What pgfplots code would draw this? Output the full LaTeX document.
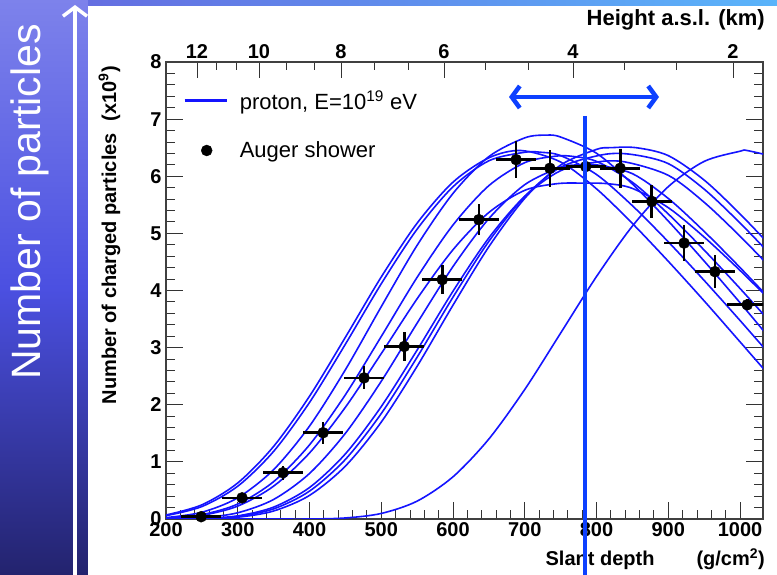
\documentclass[border=0pt]{standalone}
\usepackage{fontspec}
\setmainfont{Liberation Sans}
\usepackage{pgfplots}
\pgfplotsset{compat=1.18}
\usetikzlibrary{arrows.meta}

\definecolor{curve}{rgb}{0.08,0.08,1}
\definecolor{marker}{rgb}{0.05,0.25,1}
\definecolor{bgtop}{RGB}{125,130,235}
\definecolor{bgmid}{RGB}{75,80,225}
\definecolor{bgbot}{RGB}{35,35,110}
\newcommand{\tl}{\fontsize{20}{24}\selectfont\bfseries}

\pgfplotsset{
  frame/.style={
    at={(166pt,56pt)}, anchor=south west, scale only axis,
    width=597pt, height=457pt,
    xmin=200, xmax=1032, ymin=0, ymax=8,
    ticklabel style={font=\tl},
    /pgf/number format/assume math mode=true,
    /pgf/number format/1000 sep={},
  },
  sim/.style={curve, line width=1.6pt, smooth, forget plot},
}

\begin{document}
\begin{tikzpicture}[x=1pt,y=1pt]
\useasboundingbox (0,0) rectangle (777,575);
% slide background
\shade[top color=bgtop, bottom color=bgbot, middle color=bgmid] (0,0) rectangle (777,575);
\shade[left color={rgb,255:red,100;green,110;blue,225}, right color={rgb,255:red,90;green,180;blue,250}] (88,568) rectangle (777,575);
\fill[white] (88,0) rectangle (777,569);
\draw[white, line width=3.5pt, -{Straight Barb[length=9pt,width=24pt]}] (75,0) -- (75,570);
\node[white, rotate=90, anchor=base west, inner sep=0pt, font=\fontsize{41}{48}\selectfont] at (40,195) {Number of particles};

% height axis on top
\begin{axis}[frame,
  axis x line*=top, axis y line=none,
  axis line style={draw=none},
  xtick={243.2,329.6,443.9,587.5,767.2,990.2},
  xticklabels={12,10,8,6,4,2},
  minor xtick={269.7,297.6,367.2,406.3,489.9,537.3,644.6,704.5,838.3,910.8},
  tick align=inside, major tick length=16pt, minor tick length=8pt,
  every tick/.append style={black!80, line width=0.9pt},
]
\addplot[draw=none] coordinates {(200,0) (1032,8)};
\end{axis}

\begin{axis}[frame,
  xtick={200,300,...,1000}, ytick={0,1,...,8},
  minor x tick num=4, minor y tick num=4,
  xtick pos=left, xticklabel pos=left, ytick pos=both, yticklabel pos=left,
  tick align=inside,
  major tick length=17pt, minor tick length=9pt,
  every tick/.append style={black!80, line width=0.9pt},
  axis line style={black!75, line width=1.1pt},
  yticklabel style={xshift=-1pt},
  legend cell align=left,
  legend style={at={(rel axis cs:0.0285,0.937)}, anchor=north west, draw=none, fill=none,
    inner sep=0pt, row sep=31pt, font=\fontsize{22}{26}\selectfont, nodes={inner sep=0pt}},
]
\addplot[curve, line width=1.6pt, smooth,
  legend image code/.code={\draw[curve, line width=3pt] (0pt,0pt) -- (42pt,0pt); \path[draw=none,fill=none] (55pt,0pt) circle (0.1pt);}]
  coordinates {(200,0.070) (250,0.248) (300,0.631) (350,1.271) (400,2.149) (450,3.181) (500,4.237) (550,5.179) (600,5.897) (650,6.323) (695,6.45) (750,6.249) (800,5.779) (850,5.173) (900,4.511) (950,3.818) (1000,3.101) (1050,2.381)};
\addlegendentry{proton, E=10\textsuperscript{19} eV}
\addplot[sim] coordinates {(200,0.058) (250,0.218) (300,0.574) (350,1.184) (400,2.040) (450,3.060) (500,4.118) (550,5.074) (600,5.816) (650,6.271) (700,6.42) (722,6.42) (750,6.361) (800,6.030) (850,5.484) (900,4.852) (950,4.176) (1000,3.475) (1050,2.756)};
\addplot[sim] coordinates {(200,0.024) (250,0.118) (300,0.371) (350,0.864) (400,1.626) (450,2.613) (500,3.717) (550,4.791) (600,5.700) (650,6.344) (700,6.672) (730,6.72) (750,6.686) (800,6.402) (850,5.864) (900,5.215) (950,4.515) (1000,3.786) (1050,3.035)};
\addplot[sim] coordinates {(200,0.014) (250,0.076) (300,0.262) (350,0.654) (400,1.298) (450,2.175) (500,3.195) (550,4.231) (600,5.147) (650,5.836) (700,6.238) (742,6.35) (765,6.35) (800,6.260) (850,5.895) (900,5.339) (950,4.707) (1000,4.035) (1050,3.338)};
\addplot[sim] coordinates {(200,0.011) (250,0.064) (300,0.226) (350,0.575) (400,1.156) (450,1.956) (500,2.895) (550,3.856) (600,4.714) (650,5.366) (700,5.754) (745,5.87) (780,5.88) (815,5.87) (850,5.787) (900,5.450) (950,4.935) (1000,4.351) (1050,3.730)};
\addplot[sim] coordinates {(200,0.002) (250,0.022) (300,0.109) (350,0.342) (400,0.797) (450,1.500) (500,2.411) (550,3.429) (600,4.420) (650,5.259) (700,5.853) (750,6.156) (777,6.2) (800,6.2) (850,6.045) (900,5.611) (950,5.034) (1000,4.402) (1050,3.739)};
\addplot[sim] coordinates {(200,0) (250,0.009) (300,0.055) (350,0.208) (400,0.551) (450,1.140) (500,1.968) (550,2.958) (600,3.988) (650,4.922) (700,5.649) (750,6.098) (801,6.25) (840,6.25) (900,6.016) (950,5.544) (1000,4.950) (1050,4.305)};
\addplot[sim] coordinates {(200,0) (250,0.006) (300,0.044) (350,0.177) (400,0.488) (450,1.043) (500,1.846) (550,2.833) (600,3.884) (650,4.861) (700,5.645) (750,6.157) (810,6.38) (850,6.38) (900,6.221) (950,5.774) (1000,5.181) (1050,4.530)};
\addplot[sim] coordinates {(200,0) (250,0.004) (300,0.031) (350,0.140) (400,0.413) (450,0.926) (500,1.697) (550,2.674) (600,3.744) (650,4.767) (700,5.614) (750,6.196) (800,6.470) (820,6.5) (855,6.5) (900,6.361) (950,5.933) (1000,5.340) (1050,4.683)};
\addplot[sim] coordinates {(200,0) (250,0) (300,0) (350,0) (400,0) (450,0.018) (500,0.097) (550,0.313) (600,0.739) (650,1.401) (700,2.268) (750,3.255) (800,4.245) (850,5.128) (900,5.818) (950,6.260) (1000,6.438) (1010,6.45) (1050,6.335)};
\addplot[black, only marks, mark=*, mark size=5.5pt, mark options={fill=black, draw=black},
  legend image code/.code={\fill[black] (22pt,0pt) circle (5.5pt); \path[draw=none,fill=none] (0pt,0pt) circle (0.1pt) (55pt,0pt) circle (0.1pt);},
  error bars/.cd, x dir=both, x explicit, y dir=both, y explicit,
  error bar style={line width=2.6pt, black}, error mark=none]
  coordinates {
  (249,0.04) +- (28,0.03)
  (306,0.37) +- (28,0.09)
  (363,0.81) +- (28,0.12)
  (419,1.51) +- (28,0.19)
  (476,2.47) +- (28,0.20)
  (532,3.02) +- (28,0.25)
  (585,4.19) +- (28,0.26)
  (636,5.24) +- (28,0.27)
  (688,6.29) +- (28,0.32)
  (735,6.14) +- (28,0.32)
  (785,6.17) +- (28,0.32)
  (833,6.14) +- (28,0.34)
  (877,5.56) +- (28,0.29)
  (922,4.83) +- (28,0.32)
  (965,4.33) +- (28,0.29)
  (1010,3.75) +- (28,0.10)
  };
\addlegendentry{Auger shower}
\end{axis}

% titles
\node[anchor=base east, inner sep=0pt, font=\tl] at (765,9) {Slant depth\hspace{2.1em}(g/cm\textsuperscript{2})};
\node[anchor=base east, inner sep=0pt, font=\fontsize{22}{26}\selectfont\bfseries] at (765,549) {Height a.s.l. (km)};
\node[rotate=90, anchor=base east, inner sep=0pt, font=\tl] at (116,509) {Number of charged particles\hspace{0.6em}(x10\textsuperscript{9})};

% annotations
\draw[marker, line width=3.6pt] (585,459) -- (585,0);
\draw[marker, line width=4.5pt, {Straight Barb[length=8pt,width=22pt]}-{Straight Barb[length=8pt,width=22pt]}] (509,478) -- (659,478);
\end{tikzpicture}
\end{document}
